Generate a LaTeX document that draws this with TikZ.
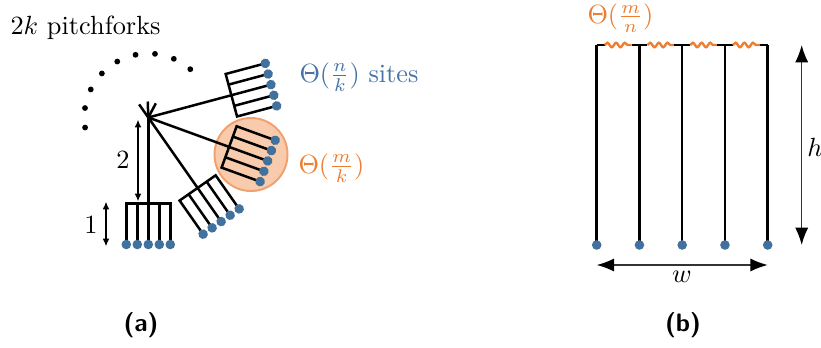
\documentclass[tikz,border=0pt]{standalone}
\usetikzlibrary{arrows.meta,decorations.pathmorphing,calc}
\definecolor{tOrange}{RGB}{237,125,49}
\definecolor{cFill}{RGB}{248,203,173}
\definecolor{cDraw}{RGB}{242,160,110}
\definecolor{dotBlue}{RGB}{65,113,156}
\definecolor{txtBlue}{RGB}{70,115,165}
\begin{document}
\begin{tikzpicture}[x=0.38pt,y=0.38pt,
  fork/.style={line width=0.95pt},
  thinarrow/.style={line width=0.65pt,{Latex[length=3pt,width=2.6pt]}-{Latex[length=3pt,width=2.6pt]}},
  bigarrow/.style={line width=0.55pt,draw=black!80,{Latex[length=6.6pt,width=5pt,color=black]}-{Latex[length=6.6pt,width=5pt,color=black]}},
  site/.style={fill=dotBlue},
  wavy/.style={draw=tOrange,line width=0.9pt,decorate,decoration={snake,amplitude=0.85pt,segment length=3.3pt}},
  lab/.style={inner sep=0pt},
  pics/pfork/.style={code={
    \draw[fork] (0,0) -- (86,0);
    \draw[fork] (127,-22) -- (86,-22) -- (86,22) -- (127,22);
    \foreach \t in {-11,0,11}{\draw[fork] (86,\t) -- (127,\t);}
    \foreach \t in {-22,-11,0,11,22}{\fill[site] (127,\t) circle (4.8);}
  }}]
\useasboundingbox (0,0) rectangle (821,-347);

% ---------- panel (a) ----------
\coordinate (hub) at (148.3,-117.5);
\node[lab,anchor=base west] (title) at (10,-34) {$2k$ pitchforks};

\foreach \i in {0,...,8} \fill (hub) ++({49+17.5*\i}:64) circle (2.9);

\foreach \a in {125,92,62} \draw[fork] (hub) -- ++(\a:16);

\node[circle,fill=cFill,draw=cDraw,line width=0.75pt,minimum size=73*0.38pt,inner sep=0pt] (focus) at (251,-154.5) {};

\pic[rotate=15] at (hub) {pfork};
\pic[rotate=-20] at (hub) {pfork};
\pic[rotate=-55] at (hub) {pfork};
\pic[rotate=-90] at (hub) {pfork};

\coordinate (a2t) at (138,-119.5);
\coordinate (a2b) at (138,-201.5);
\draw[thinarrow] (a2t) -- (a2b);
\node[lab] (two) at (123,-160) {$2$};
\coordinate (a1t) at (106,-201.5);
\coordinate (a1b) at (106,-246.5);
\draw[thinarrow] (a1t) -- (a1b);
\node[lab] (one) at (91,-225) {$1$};

\node[lab,anchor=base west,text=txtBlue] (sites) at (299,-82) {$\Theta(\frac{n}{k})$ sites};
\node[lab,anchor=base west,text=tOrange] (mk) at (298,-173) {$\Theta(\frac{m}{k})$};

\node[lab,font=\sffamily\bfseries\fontsize{9.6}{11}\selectfont] (capa) at (141,-325) {(a)};

% ---------- panel (b) ----------
\foreach \i in {0,...,4}{
  \coordinate (t\i) at ({596.7+42.75*\i},-45);
  \coordinate (b\i) at ({596.7+42.75*\i},-245);
  \draw[fork] (t\i) -- (b\i);
}
\foreach \i in {0,...,3}{
  \draw[fork] (t\i) -- ++(8,0);
  \draw[wavy] ($(t\i)+(8,0)$) -- ++(27,0);
  \draw[fork] ($(t\i)+(35,0)$) -- ++(7.75,0);
}
\foreach \i in {0,...,4} \fill[site] (b\i) circle (4.8);

\node[lab,anchor=base west,text=tOrange] (mn) at (587,-23.5) {$\Theta(\frac{m}{n})$};

\coordinate (ht) at (801.7,-45);
\coordinate (hb) at (801.7,-245);
\draw[bigarrow] (ht) -- (hb);
\node[lab] (hlab) at (815,-147) {$h$};

\coordinate (wl) at (596.7,-265);
\coordinate (wr) at (767.7,-265);
\draw[bigarrow] (wl) -- (wr);
\node[lab,anchor=base] (wlab) at (682,-282) {$w$};

\node[lab,font=\sffamily\bfseries\fontsize{9.6}{11}\selectfont] (capb) at (683,-325) {(b)};
\end{tikzpicture}
\end{document}
